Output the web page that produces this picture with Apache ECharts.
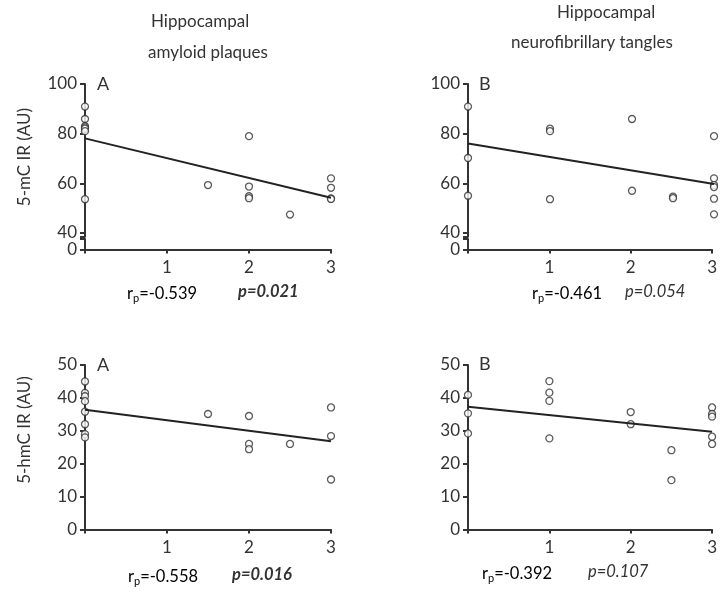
<!DOCTYPE html>
<html>
<head>
<meta charset="utf-8">
<script src="https://cdn.jsdelivr.net/npm/echarts@6.0.0/dist/echarts.min.js"></script>
<style>
html,body{margin:0;padding:0;background:#fff;}
#main{width:720px;height:601px;}
</style>
</head>
<body>
<div id="main"></div>
<script>
// 5-mC vs amyloid plaques (top left)
var mcPlaqueX = [0, 0, 0, 0, 0, 0, 0, 1.5, 2, 2, 2, 2, 2.5, 3, 3, 3, 3];
var mcPlaqueY = [90.9, 85.9, 83, 82.5, 82, 81, 53.6, 59.3, 79, 58.7, 54.8, 54, 47.4, 62, 58.2, 53.9, 53.7];
var mcPlaqueFit = [[0, 78.1], [3, 54.2]];

// 5-mC vs neurofibrillary tangles (top right)
var mcTangleX = [0, 0, 0, 1, 1, 1, 2, 2, 2.5, 2.5, 3, 3, 3, 3, 3, 3];
var mcTangleY = [90.9, 70.2, 55, 82, 81, 53.6, 85.9, 57, 54.6, 54, 79, 62, 59.3, 58.5, 53.8, 47.5];
var mcTangleFit = [[0, 76], [3, 59.7]];

// 5-hmC vs amyloid plaques (bottom left)
var hmcPlaqueX = [0, 0, 0, 0, 0, 0, 0, 0, 1.5, 2, 2, 2, 2.5, 3, 3, 3];
var hmcPlaqueY = [45, 41.5, 40.5, 39, 35.8, 32, 29, 28, 35.1, 34.5, 26, 24.4, 26, 37.1, 28.4, 15.2];
var hmcPlaqueFit = [[0, 36.4], [3, 26.8]];

// 5-hmC vs neurofibrillary tangles (bottom right)
var hmcTangleX = [0, 0, 0, 1, 1, 1, 1, 2, 2, 2.5, 2.5, 3, 3, 3, 3, 3];
var hmcTangleY = [40.9, 35.3, 29.2, 45.1, 41.6, 39.1, 27.7, 35.7, 32, 24.1, 15, 37.1, 35.1, 34.3, 28.2, 26];
var hmcTangleFit = [[0, 37.3], [3, 29.7]];

var xTicks = [1, 2, 3];
var mcTicks = [40, 60, 80, 100];

var FONT = 'Lato';
var TXT = '#333';

function pairs(xs, ys) {
  var out = [];
  for (var i = 0; i < xs.length; i++) out.push([xs[i], ys[i]]);
  return out;
}

var axisLine = {lineStyle: {color: '#333', width: 2}};

function xAx(idx, show) {
  return {
    gridIndex: idx, type: 'value', min: 0, max: 3, interval: 1,
    show: show,
    axisLine: axisLine,
    axisTick: {show: true, length: 4, lineStyle: {color: '#333', width: 2}},
    axisLabel: {customValues: xTicks, margin: 10, fontFamily: FONT, fontSize: 17, color: TXT},
    splitLine: {show: false}
  };
}

function scatter(idx, data) {
  return {
    type: 'scatter', xAxisIndex: idx, yAxisIndex: idx, data: data,
    symbol: 'circle', symbolSize: 7, silent: true,
    itemStyle: {color: '#fff', borderColor: '#333', borderWidth: 1.3}
  };
}

function fit(idx, data) {
  return {
    type: 'line', xAxisIndex: idx, yAxisIndex: idx, data: data,
    showSymbol: false, silent: true,
    lineStyle: {color: '#222', width: 2}
  };
}

var tickStyle = {show: true, length: 5, lineStyle: {color: '#333', width: 2}};
var labelStyle = {margin: 8, fontFamily: FONT, fontSize: 17, color: TXT};

function mainY(idx) {
  return {
    gridIndex: idx, type: 'value', min: 38.5, max: 100,
    axisLine: axisLine,
    axisTick: {show: true, length: 5, customValues: [38.5, 40, 60, 80, 100], lineStyle: {color: '#333', width: 2}},
    axisLabel: Object.assign({customValues: mcTicks}, labelStyle),
    splitLine: {show: false}
  };
}
function breakY(idx) {
  return {
    gridIndex: idx, type: 'value', min: 0, max: 1, interval: 1,
    axisLine: axisLine,
    axisTick: tickStyle,
    axisLabel: Object.assign({customValues: [0]}, labelStyle),
    splitLine: {show: false}
  };
}
function hmcY(idx) {
  return {
    gridIndex: idx, type: 'value', min: 0, max: 50, interval: 10,
    axisLine: axisLine,
    axisTick: tickStyle,
    axisLabel: labelStyle,
    splitLine: {show: false}
  };
}

function txt(x, y, s, extra) {
  var st = {text: s, fontFamily: FONT, fontSize: 16.5, fill: TXT, textVerticalAlign: 'middle'};
  for (var k in extra) st[k] = extra[k];
  return {type: 'text', x: x, y: y, style: st, silent: true};
}
function rp(x, y, v) {
  return {
    type: 'text', x: x, y: y, silent: true,
    style: {
      text: '{a|r}{b|p}{a|=' + v + '}',
      textVerticalAlign: 'middle',
      rich: {
        a: {fontFamily: FONT, fontSize: 16.5, color: TXT, lineHeight: 20, verticalAlign: 'bottom'},
        b: {fontFamily: FONT, fontSize: 11, color: TXT, lineHeight: 16, verticalAlign: 'bottom', padding: [0, 0, -2, 0]}
      }
    }
  };
}

var chart = echarts.init(document.getElementById('main'));
chart.setOption({
  animation: false,
  backgroundColor: '#fff',
  grid: [
    {left: 85, top: 84, width: 246, height: 152.7},
    {left: 85, top: 239, width: 246, height: 10.5},
    {left: 468, top: 84, width: 246, height: 152.7},
    {left: 468, top: 239, width: 246, height: 10.5},
    {left: 85, top: 365, width: 246, height: 164.5},
    {left: 468, top: 365, width: 246, height: 164.5}
  ],
  xAxis: [xAx(0, false), xAx(1, true), xAx(2, false), xAx(3, true), xAx(4, true), xAx(5, true)],
  yAxis: [mainY(0), breakY(1), mainY(2), breakY(3), hmcY(4), hmcY(5)],
  series: [
    scatter(0, pairs(mcPlaqueX, mcPlaqueY)), fit(0, mcPlaqueFit),
    scatter(2, pairs(mcTangleX, mcTangleY)), fit(2, mcTangleFit),
    scatter(4, pairs(hmcPlaqueX, hmcPlaqueY)), fit(4, hmcPlaqueFit),
    scatter(5, pairs(hmcTangleX, hmcTangleY)), fit(5, hmcTangleFit)
  ],
  graphic: [
    txt(151, 22, 'Hippocampal', {fontSize: 17}),
    txt(148, 53, 'amyloid plaques', {fontSize: 17}),
    txt(557, 13, 'Hippocampal', {fontSize: 17}),
    txt(511, 43, 'neurofibrillary tangles', {fontSize: 17}),
    txt(97, 84, 'A', {fontSize: 18}),
    txt(479, 84, 'B', {fontSize: 18}),
    txt(97, 365, 'A', {fontSize: 18}),
    txt(479, 364, 'B', {fontSize: 18}),
    {type: 'text', x: 25, y: 157, rotation: Math.PI / 2, silent: true,
     style: {text: '5-mC IR (AU)', fontFamily: FONT, fontSize: 17, fill: TXT, textAlign: 'center', textVerticalAlign: 'middle'}},
    {type: 'text', x: 25, y: 430, rotation: Math.PI / 2, silent: true,
     style: {text: '5-hmC IR (AU)', fontFamily: FONT, fontSize: 17, fill: TXT, textAlign: 'center', textVerticalAlign: 'middle'}},
    rp(127, 292, '-0.539'),
    txt(238, 292, 'p=0.021', {fontWeight: 'bold', fontStyle: 'italic'}),
    rp(532, 292, '-0.461'),
    txt(625, 292, 'p=0.054', {fontStyle: 'italic'}),
    rp(128, 575, '-0.558'),
    txt(232, 575, 'p=0.016', {fontWeight: 'bold', fontStyle: 'italic'}),
    rp(482, 572, '-0.392'),
    txt(588, 572, 'p=0.107', {fontStyle: 'italic'})
  ]
});
</script>
</body>
</html>
